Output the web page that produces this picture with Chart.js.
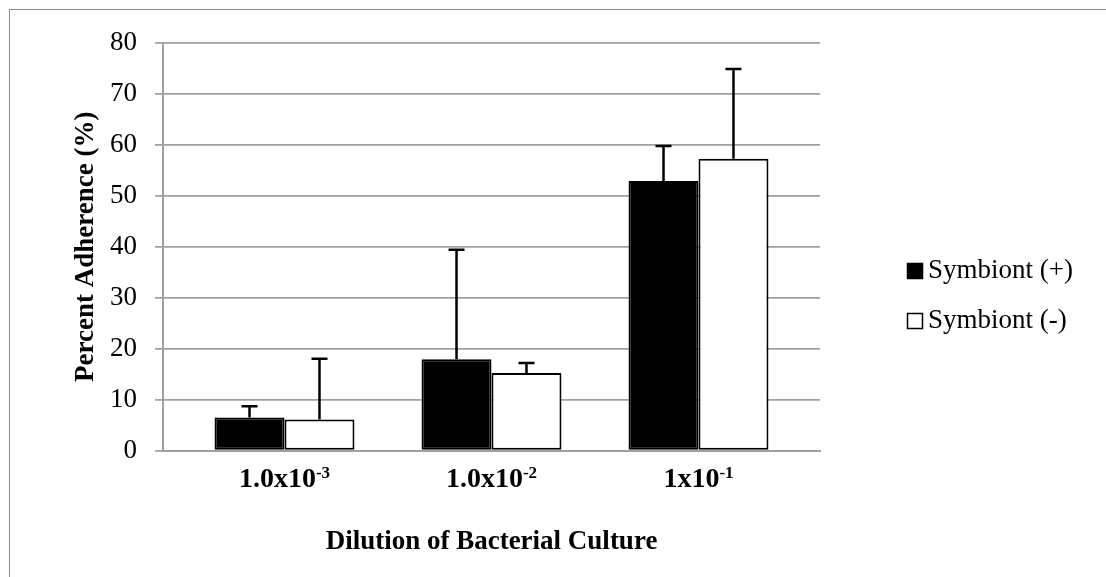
<!DOCTYPE html>
<html>
<head>
<meta charset="utf-8">
<script src="https://cdn.jsdelivr.net/npm/chart.js@4.4.0/dist/chart.umd.min.js"></script>
<style>
  body { margin: 0; background: #fff; overflow: hidden; }
  #marco { position: absolute; left: 9px; top: 9px; width: 1200px; height: 700px; border: 1.5px solid #8c8c8c; }
  #grafico { position: absolute; left: 0; top: 0; }
</style>
</head>
<body>
<div id="marco"></div>
<canvas id="grafico" width="1106" height="577"></canvas>
<script>
// datos
const categorias = ['1.0x10', '1.0x10', '1x10'];
const exponentes = ['-3', '-2', '-1'];
const nombresSeries = ['Symbiont (+)', 'Symbiont (-)'];
const valoresMas = [6.5, 17.9, 52.9];
const valoresMenos = [6.1, 15.2, 57.3];
const errorMas = [2.2, 21.5, 6.9];
const errorMenos = [11.9, 2.0, 17.6];
const yMin = 0;
const yMax = 80;
const yPaso = 10;

const gris = '#a0a0a0';
Chart.defaults.font.family = "'Liberation Serif', serif";
Chart.defaults.color = '#000';

const aPuntos = (valores) => valores.map((v, i) => ({ x: i, y: v }));

// barras de error (solo hacia arriba)
const barrasError = {
  id: 'barrasError',
  afterDatasetsDraw(chart) {
    const ctx = chart.ctx;
    const escalaY = chart.scales.y;
    chart.data.datasets.forEach((ds, i) => {
      const meta = chart.getDatasetMeta(i);
      meta.data.forEach((barra, j) => {
        const base = escalaY.getPixelForValue(ds.data[j].y);
        const tope = escalaY.getPixelForValue(ds.data[j].y + ds.errores[j]);
        ctx.save();
        ctx.strokeStyle = '#000';
        ctx.lineWidth = 2.5;
        ctx.beginPath();
        ctx.moveTo(barra.x, base);
        ctx.lineTo(barra.x, tope);
        ctx.moveTo(barra.x - 8, tope);
        ctx.lineTo(barra.x + 8, tope);
        ctx.stroke();
        ctx.restore();
      });
    });
  }
};

// etiquetas del eje x con superindice
const etiquetasX = {
  id: 'etiquetasX',
  afterDraw(chart) {
    const ctx = chart.ctx;
    const escalaX = chart.scales.x;
    ctx.save();
    ctx.fillStyle = '#000';
    ctx.textBaseline = 'alphabetic';
    ctx.textAlign = 'left';
    categorias.forEach((texto, i) => {
      const cx = escalaX.getPixelForValue(i);
      ctx.font = "bold 28px 'Liberation Serif'";
      const anchoBase = ctx.measureText(texto).width;
      ctx.font = "bold 17px 'Liberation Serif'";
      const anchoExp = ctx.measureText(exponentes[i]).width;
      const x0 = cx - (anchoBase + anchoExp) / 2;
      ctx.font = "bold 28px 'Liberation Serif'";
      ctx.fillText(texto, x0, 487);
      ctx.font = "bold 17px 'Liberation Serif'";
      ctx.fillText(exponentes[i], x0 + anchoBase, 478);
    });
    ctx.restore();
  }
};

// leyenda a la derecha
const leyenda = {
  id: 'leyenda',
  afterDraw(chart) {
    const ctx = chart.ctx;
    ctx.save();
    ctx.font = "27px 'Liberation Serif'";
    ctx.textBaseline = 'middle';
    ctx.textAlign = 'left';
    chart.data.datasets.forEach((ds, i) => {
      const y = 271 + i * 50;
      ctx.fillStyle = ds.backgroundColor;
      ctx.fillRect(907, y - 8, 16, 16);
      ctx.strokeStyle = '#000';
      ctx.lineWidth = 1.5;
      ctx.strokeRect(907.5, y - 7.5, 15, 15);
      ctx.fillStyle = '#000';
      ctx.fillText(ds.label, 928, y);
    });
    ctx.restore();
  }
};

new Chart(document.getElementById('grafico'), {
  type: 'bar',
  data: {
    datasets: [
      {
        label: nombresSeries[0],
        data: aPuntos(valoresMas),
        errores: errorMas,
        backgroundColor: '#000',
        borderColor: '#000',
        borderWidth: 2,
        borderSkipped: false
      },
      {
        label: nombresSeries[1],
        data: aPuntos(valoresMenos),
        errores: errorMenos,
        backgroundColor: '#fff',
        borderColor: '#000',
        borderWidth: 2,
        borderSkipped: false
      }
    ]
  },
  options: {
    responsive: false,
    animation: false,
    devicePixelRatio: 1,
    categoryPercentage: 0.676,
    barPercentage: 1,
    layout: { padding: { top: 43, right: 286, bottom: 0, left: 0 } },
    plugins: {
      legend: { display: false },
      tooltip: { enabled: false }
    },
    scales: {
      x: {
        type: 'linear',
        offset: false,
        min: -0.587,
        max: 2.587,
        ticks: { display: false, stepSize: 1, includeBounds: false },
        grid: { display: false, offset: false },
        border: { display: true, color: gris, width: 2 },
        title: {
          display: true,
          text: 'Dilution of Bacterial Culture',
          font: { size: 27, weight: 'bold' },
          padding: { top: 0, bottom: 19 }
        },
        afterFit(escala) { escala.height = 126.5; }
      },
      y: {
        min: yMin,
        max: yMax,
        ticks: { stepSize: yPaso, padding: 18, font: { size: 27 } },
        grid: { color: gris, lineWidth: 1.75, tickLength: 8 },
        border: { display: true, color: gris, width: 2 },
        title: {
          display: true,
          text: 'Percent Adherence (%)',
          font: { size: 27, weight: 'bold' },
          padding: { top: 70, bottom: 0 }
        },
        afterFit(escala) { escala.width = 163; }
      }
    }
  },
  plugins: [barrasError, etiquetasX, leyenda]
});
</script>
</body>
</html>
